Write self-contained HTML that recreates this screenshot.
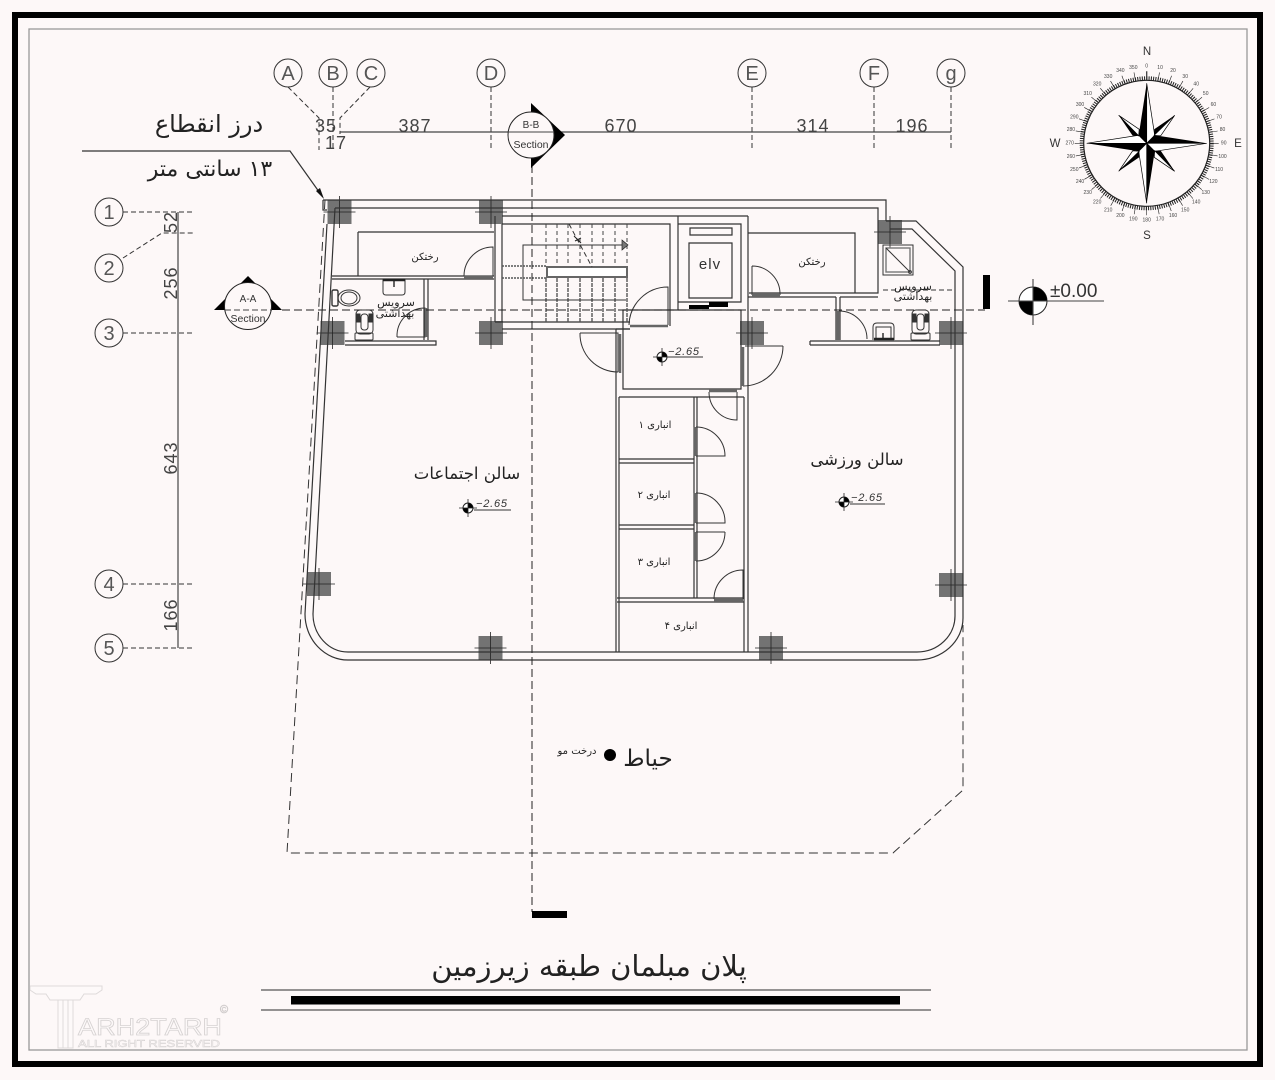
<!DOCTYPE html>
<html><head><meta charset="utf-8"><style>
html,body{margin:0;padding:0;background:#fdf8f8}
svg{display:block}
.fa{font-family:"DejaVu Sans",sans-serif;fill:#222}
.la{font-family:"Liberation Sans",sans-serif;fill:#333}
.ax{font-family:"Liberation Sans",sans-serif;fill:#555;font-size:20px;text-anchor:middle}
.dim{font-family:"Liberation Sans",sans-serif;fill:#444;font-size:18px;letter-spacing:1px;text-anchor:middle}
.lv{font-family:"Liberation Sans",sans-serif;font-style:italic;fill:#333;font-size:11px;letter-spacing:.8px}
.d{font-family:"Liberation Sans",sans-serif;font-size:5px;fill:#444;text-anchor:middle}
.m{fill:none;stroke:#333;stroke-width:1}
.w{fill:none;stroke:#333;stroke-width:1.2}
.dash{fill:none;stroke:#333;stroke-width:1;stroke-dasharray:5 3}
.dr{fill:none;stroke:#333;stroke-width:1}
.th{fill:none;stroke:#666;stroke-width:2.5}
</style></head><body>
<svg width="1275" height="1080" viewBox="0 0 1275 1080" xmlns="http://www.w3.org/2000/svg">
<defs>
<g id="col"><rect x="-12" y="-12" width="24" height="24" fill="#737373"/><path d="M-16 0H16M0-16V16" stroke="#222" stroke-width=".8"/></g>
<g id="lvl"><circle r="5" fill="#fff" stroke="#222"/><path d="M0 0V-5A5 5 0 0 1 5 0ZM0 0V5A5 5 0 0 1 -5 0Z" fill="#000"/><path d="M-9 0H9M0-9V9" stroke="#222" stroke-width=".8"/></g>
</defs>
<rect width="1275" height="1080" fill="#fdf8f8"/>
<rect x="15" y="15" width="1245" height="1049" fill="none" stroke="#000" stroke-width="6"/>
<rect x="29" y="29" width="1218" height="1021" fill="none" stroke="#999" stroke-width="1.3"/>

<!-- Grid axes top -->
<g class="m">
<circle cx="288" cy="73" r="14"/><circle cx="333" cy="73" r="14"/><circle cx="371" cy="73" r="14"/><circle cx="491" cy="73" r="14"/><circle cx="752" cy="73" r="14"/><circle cx="874" cy="73" r="14"/><circle cx="951" cy="73" r="14"/>
</g>
<g class="ax"><text x="288" y="80">A</text><text x="333" y="80">B</text><text x="371" y="80">C</text><text x="491" y="80">D</text><text x="752" y="80">E</text><text x="874" y="80">F</text><text x="951" y="80">g</text></g>
<path class="dash" d="M288 87L319 118V150M333 87V150M370 87L340 118V134M491 87V150M752 87V150M874 87V150M951 87V150"/>
<path d="M340 132H951" stroke="#444" stroke-width="1.3"/>
<g class="dim"><text x="326" y="132">35</text><text x="336" y="149">17</text><text x="415" y="132">387</text><text x="621" y="132">670</text><text x="813" y="132">314</text><text x="912" y="132">196</text></g>

<!-- Grid axes left -->
<g class="m"><circle cx="109" cy="212" r="14"/><circle cx="109" cy="268" r="14"/><circle cx="109" cy="333" r="14"/><circle cx="109" cy="584" r="14"/><circle cx="109" cy="648" r="14"/></g>
<g class="ax"><text x="109" y="219">1</text><text x="109" y="275">2</text><text x="109" y="340">3</text><text x="109" y="591">4</text><text x="109" y="655">5</text></g>
<path class="dash" d="M123 212H195M123 258L162 233H195M123 333H195M123 584H195M123 648H195"/>
<path d="M178 212V648" stroke="#444" stroke-width="1.2"/>
<g class="dim"><text transform="translate(177,222) rotate(-90)">52</text><text transform="translate(177,283) rotate(-90)">256</text><text transform="translate(177,458) rotate(-90)">643</text><text transform="translate(177,615) rotate(-90)">166</text></g>

<!-- Leader -->
<path d="M82 151H290L322 196" fill="none" stroke="#333" stroke-width="1.2"/><path d="M324 199L316 191L320 188Z" fill="#111"/>
<text class="fa" x="209" y="132" font-size="24" text-anchor="middle" direction="rtl">درز انقطاع</text>
<text class="fa" x="210" y="176" font-size="22" text-anchor="middle" direction="rtl">۱۳ سانتی متر</text>

<!-- lot dashed -->
<path d="M325 200L287 853H893L963 790V625" fill="none" stroke="#333" stroke-width="1" stroke-dasharray="9 5"/>

<!-- Columns -->
<use href="#col" x="339.500" y="212"/><use href="#col" x="491" y="212"/><use href="#col" x="332.500" y="333"/><use href="#col" x="491" y="333"/><use href="#col" x="890" y="232"/><use href="#col" x="752" y="333"/><use href="#col" x="951" y="333"/><use href="#col" x="319" y="584"/><use href="#col" x="951" y="585"/><use href="#col" x="490.500" y="648"/><use href="#col" x="771" y="648"/>

<!-- outer walls -->
<g class="w">
<path d="M323 200H886V221M886 221H916L963 267V618A46 42 0 0 1 917 660H348A43 46 0 0 1 305 614L327 224M323 200V210H327"/>
<path d="M335 208H878V293H749M890 229H912L955 271V616A38 36 0 0 1 917 652H348A35 38 0 0 1 313 614L335 208"/>
<path d="M502 216H748M502 224H670V326M678 216V310M748 216V310"/>
<path d="M495 216V322M502 224V322M495 322H502M502 322H630M502 329H630"/>
<path d="M358 232H494M358 232V276M332 276H494M332 279H494M424 279V340M428 279V340M345 341H436V345H345"/>
<path d="M748 233H855V293M748 297H836M840 297H878M836 297V340M840 297V340M810 341H940M810 345H940M810 341V345"/>
<path d="M616 329H630M616 329V652M619 397V652M744 397V652M748 310V652M619 397H744"/>
<path d="M623 310H741V389H623ZM623 310V329"/>
<path d="M694 397V598M697 397V598M619 459H694M619 463H694M619 525H694M619 529H694M617 598H744M617 602H744"/>
<path d="M690 228H732V235H690ZM689 243H732V298H689ZM678 224H741V302H678"/>
</g>

<!-- Stairs -->
<path d="M546 224V267M557 224V267M568 224V267M580 224V267M592 224V267M603 224V267M615 224V267M627 224V267" stroke="#444" fill="none" stroke-dasharray="4 3"/>
<path d="M546 278V322M557 278V322M568 278V322M580 278V322M592 278V322M603 278V322M615 278V322M627 278V322" stroke="#555" fill="none" stroke-width="1.4" stroke-dasharray="4 1"/>
<rect x="547" y="267" width="80" height="10" fill="#fff" stroke="#666" stroke-width="2"/>
<path class="m" d="M627 245H523V300H626"/>
<path d="M502 266H547M502 278H547" stroke="#555" stroke-dasharray="2 1" fill="none" stroke-width="1.4"/>
<path class="dash" d="M569 224L592 267" stroke-dasharray="5 2"/><path d="M575 241l6-3M574 236l7 7" stroke="#222" fill="none"/>
<path d="M622 240L628 245L622 250Z" fill="#777" stroke="#222" stroke-width=".7"/>
<rect x="689" y="305" width="20" height="4" fill="#000"/><rect x="709" y="302" width="19" height="5" fill="#000"/>
<text class="la" x="710" y="269" font-size="15" text-anchor="middle" letter-spacing="1">elv</text>

<!-- Doors -->
<g class="dr">
<path d="M464 276A29 29 0 0 1 493 247V276"/>
<path d="M397 337A28 28 0 0 1 425 308V337H397"/>
<path d="M629 325A39 39 0 0 1 668 287V325"/>
<path d="M580 333A38 38 0 0 0 618 372M580 333H618V372"/>
<path d="M783 346A40 40 0 0 1 743 386M783 346H745"/>
<path d="M709 392A28 28 0 0 0 737 420V392"/>
<path d="M696 427A29 29 0 0 1 725 456H696"/>
<path d="M696 493A29 29 0 0 1 725 523H696"/>
<path d="M725 532A29 29 0 0 1 696 561M725 532H696"/>
<path d="M714 599A29 29 0 0 1 743 570V599"/>
<path d="M752 266A28 28 0 0 1 780 295M752 266V295"/>
<path d="M839 311A28 28 0 0 1 867 339"/>
</g>
<g class="th">
<path d="M464 277H493M426 308V337M630 326H668M620 334V373M743 347V386M709 391H737M695 427V456M695 493V523M695 532V561M714 600H743M752 295H780M838 311V340"/>
</g>

<!-- Fixtures -->
<g class="m">
<rect x="332" y="290" width="6" height="16" rx="1.5" stroke-width="1.4"/><ellipse cx="349" cy="298" rx="11" ry="8"/><ellipse cx="349" cy="298" rx="8" ry="6"/>
<path d="M383 280H405V292Q405 295 402 295H386Q383 295 383 292Z"/><path d="M394 281V287" stroke-width="1.5"/><path d="M383 280H405" stroke-width="2.5" stroke="#222"/>
<rect x="356" y="310" width="17" height="24" rx="4"/><rect x="361" y="314" width="7" height="16" rx="3"/><path d="M356 314h4v8h-4ZM369 314h4v8h-4Z" fill="#333"/><rect x="355" y="333" width="18" height="7" rx="1"/>
<rect x="912" y="310" width="17" height="24" rx="4"/><rect x="917" y="314" width="7" height="16" rx="3"/><path d="M912 314h4v8h-4ZM925 314h4v8h-4Z" fill="#333"/><rect x="911" y="333" width="19" height="7" rx="1"/>
<path d="M873 340V327Q873 323 877 323H890Q894 323 894 327V340M876 339V327H891V339"/><path d="M883 333V340" stroke-width="1.5"/><path d="M874 339H894" stroke-width="2.5" stroke="#222"/>
<rect x="883" y="245" width="30" height="30" stroke="#333"/><rect x="886" y="248" width="24" height="24" stroke-width="1.4" stroke="#777"/><path d="M886 248L910 272"/><circle cx="910" cy="272" r="1.4"/>
</g>
<path class="dash" d="M883 290H955"/>

<!-- Section lines -->
<path d="M532 165V912" stroke="#222" fill="none" stroke-dasharray="8 4"/>
<path d="M282 310H985" stroke="#222" fill="none" stroke-dasharray="8 4"/>
<rect x="532" y="911" width="35" height="7" fill="#000"/>
<rect x="983" y="275" width="7" height="34" fill="#000"/>

<path d="M531 103L565 135L531 168Z" fill="#000"/>
<circle cx="531" cy="135" r="23" fill="#fdf8f8" stroke="#222"/><path d="M508 132H554" stroke="#444"/>
<text class="la" x="531" y="128" font-size="10" text-anchor="middle">B-B</text><text class="la" x="531" y="148" font-size="10.500" text-anchor="middle">Section</text>
<path d="M214 310L248 276L282 310Z" fill="#000"/>
<circle cx="248" cy="306" r="23.500" fill="#fdf8f8" stroke="#222"/><path d="M225 310H272" stroke="#444" stroke-dasharray="6 3"/>
<text class="la" x="248" y="302" font-size="10" text-anchor="middle">A-A</text><text class="la" x="248" y="322" font-size="10.500" text-anchor="middle">Section</text>

<!-- Level marks -->
<use href="#lvl" x="662" y="357"/><path class="m" d="M668 357H703"/><text class="lv" x="668" y="355">−2.65</text>
<use href="#lvl" x="468" y="508"/><path class="m" d="M474 510H511"/><text class="lv" x="476" y="507">−2.65</text>
<use href="#lvl" x="844" y="502"/><path class="m" d="M850 504H885"/><text class="lv" x="851" y="501">−2.65</text>

<!-- ±0.00 -->
<circle cx="1033" cy="301" r="14" fill="#fff" stroke="#222"/><path d="M1033 301V287A14 14 0 0 1 1047 301ZM1033 301V315A14 14 0 0 1 1019 301Z" fill="#000"/>
<path d="M1008 301H1104M1033 279V325" stroke="#444" stroke-width="1.1"/>
<text class="la" x="1050" y="297" font-size="19" fill="#444">±0.00</text>

<!-- Labels -->
<text class="fa" x="425" y="260" font-size="10" text-anchor="middle" direction="rtl">رختکن</text>
<text class="fa" x="812" y="265" font-size="10" text-anchor="middle" direction="rtl">رختکن</text>
<text class="fa" x="396" y="306" font-size="11" text-anchor="middle" direction="rtl">سرویس</text>
<text class="fa" x="395" y="317" font-size="11" text-anchor="middle" direction="rtl">بهداشتی</text>
<text class="fa" x="913" y="290" font-size="11" text-anchor="middle" direction="rtl">سرویس</text>
<text class="fa" x="913" y="300" font-size="11" text-anchor="middle" direction="rtl">بهداشتی</text>
<text class="fa" x="655" y="428" font-size="10" text-anchor="middle" direction="rtl">انباری ۱</text>
<text class="fa" x="654" y="498" font-size="10" text-anchor="middle" direction="rtl">انباری ۲</text>
<text class="fa" x="654" y="565" font-size="10" text-anchor="middle" direction="rtl">انباری ۳</text>
<text class="fa" x="681" y="629" font-size="10" text-anchor="middle" direction="rtl">انباری ۴</text>
<text class="fa" x="467" y="479" font-size="16.500" text-anchor="middle" direction="rtl">سالن اجتماعات</text>
<text class="fa" x="857" y="465" font-size="16.500" text-anchor="middle" direction="rtl">سالن ورزشی</text>
<text class="fa" x="648" y="766" font-size="23" text-anchor="middle" direction="rtl">حیاط</text>
<text class="fa" x="577" y="754" font-size="10" text-anchor="middle" direction="rtl">درخت مو</text>
<circle cx="610" cy="755" r="6" fill="#000"/>

<!-- Title -->
<text class="fa" x="589" y="976" font-size="29" text-anchor="middle" direction="rtl">پلان مبلمان طبقه زیرزمین</text>
<path d="M261 990H931M261 1010H931" stroke="#555" stroke-width="1.2"/>
<rect x="291" y="996" width="609" height="8.500" fill="#000"/>

<!-- Compass -->
<g transform="translate(1146.700,143.300)">
<circle r="63" fill="none" stroke="#222" stroke-width="1.2"/>
<circle r="65" fill="none" stroke="#222" stroke-width="4" pathLength="360" stroke-dasharray=".9 1.1"/>
<circle r="67.500" fill="none" stroke="#222" stroke-width="9" pathLength="360" stroke-dasharray=".5 9.500" transform="rotate(-90)"/>
<g><polygon points="0,-60 -8,-8 0,0" fill="#000"/><polygon points="0,-60 8,-8 0,0" fill="#fff" stroke="#000" stroke-width=".7"/><polygon points="28,-28 7.500,-14 7.500,-8" fill="#000"/><polygon points="28,-28 14,-7.500 7.500,-8" fill="#fff" stroke="#000" stroke-width=".7"/></g>
<g transform="rotate(90)"><polygon points="0,-60 -8,-8 0,0" fill="#000"/><polygon points="0,-60 8,-8 0,0" fill="#fff" stroke="#000" stroke-width=".7"/><polygon points="28,-28 7.500,-14 7.500,-8" fill="#000"/><polygon points="28,-28 14,-7.500 7.500,-8" fill="#fff" stroke="#000" stroke-width=".7"/></g>
<g transform="rotate(180)"><polygon points="0,-60 -8,-8 0,0" fill="#000"/><polygon points="0,-60 8,-8 0,0" fill="#fff" stroke="#000" stroke-width=".7"/><polygon points="28,-28 7.500,-14 7.500,-8" fill="#000"/><polygon points="28,-28 14,-7.500 7.500,-8" fill="#fff" stroke="#000" stroke-width=".7"/></g>
<g transform="rotate(270)"><polygon points="0,-60 -8,-8 0,0" fill="#000"/><polygon points="0,-60 8,-8 0,0" fill="#fff" stroke="#000" stroke-width=".7"/><polygon points="28,-28 7.500,-14 7.500,-8" fill="#000"/><polygon points="28,-28 14,-7.500 7.500,-8" fill="#fff" stroke="#000" stroke-width=".7"/></g>
<g class="d" dominant-baseline="middle">
<text x="0" y="-77">0</text><text x="13.400" y="-75.800">10</text><text x="26.300" y="-72.400">20</text><text x="38.500" y="-66.700">30</text><text x="49.500" y="-59">40</text><text x="59" y="-49.500">50</text><text x="66.700" y="-38.500">60</text><text x="72.400" y="-26.300">70</text><text x="75.800" y="-13.400">80</text><text x="77" y="0">90</text><text x="75.800" y="13.400">100</text><text x="72.400" y="26.300">110</text><text x="66.700" y="38.500">120</text><text x="59" y="49.500">130</text><text x="49.500" y="59">140</text><text x="38.500" y="66.700">150</text><text x="26.300" y="72.400">160</text><text x="13.400" y="75.800">170</text><text x="0" y="77">180</text><text x="-13.400" y="75.800">190</text><text x="-26.300" y="72.400">200</text><text x="-38.500" y="66.700">210</text><text x="-49.500" y="59">220</text><text x="-59" y="49.500">230</text><text x="-66.700" y="38.500">240</text><text x="-72.400" y="26.300">250</text><text x="-75.800" y="13.400">260</text><text x="-77" y="0">270</text><text x="-75.800" y="-13.400">280</text><text x="-72.400" y="-26.300">290</text><text x="-66.700" y="-38.500">300</text><text x="-59" y="-49.500">310</text><text x="-49.500" y="-59">320</text><text x="-38.500" y="-66.700">330</text><text x="-26.300" y="-72.400">340</text><text x="-13.400" y="-75.800">350</text>
</g>
</g>
<g class="la" font-size="11.500" text-anchor="middle"><text x="1147" y="55">N</text><text x="1147" y="239">S</text><text x="1055" y="147">W</text><text x="1238" y="147">E</text></g>

<!-- Watermark -->
<g fill="#fdf9f9" stroke="#dedada" stroke-width="1">
<path d="M30 986H102V990L96 994H84L80 1000H50L46 994H36L30 990Z"/>
<rect x="58" y="1000" width="5" height="48"/><rect x="63" y="1000" width="5" height="48"/><rect x="68" y="1000" width="5" height="48"/>
</g>
<text x="78" y="1035" font-family="Liberation Sans,sans-serif" font-size="24" fill="#fdf9f9" stroke="#d6d2d2" stroke-width=".8" textLength="144" lengthAdjust="spacingAndGlyphs">ARH2TARH</text>
<text x="78" y="1047" font-family="Liberation Sans,sans-serif" font-size="10" fill="#fdf9f9" stroke="#d6d2d2" stroke-width=".5" textLength="142" lengthAdjust="spacingAndGlyphs">ALL RIGHT RESERVED</text>
<text x="224" y="1013" font-family="Liberation Sans,sans-serif" font-size="11" fill="#fdf9f9" stroke="#cfcbcb" stroke-width=".5" text-anchor="middle">©</text>
</svg>
</body></html>
